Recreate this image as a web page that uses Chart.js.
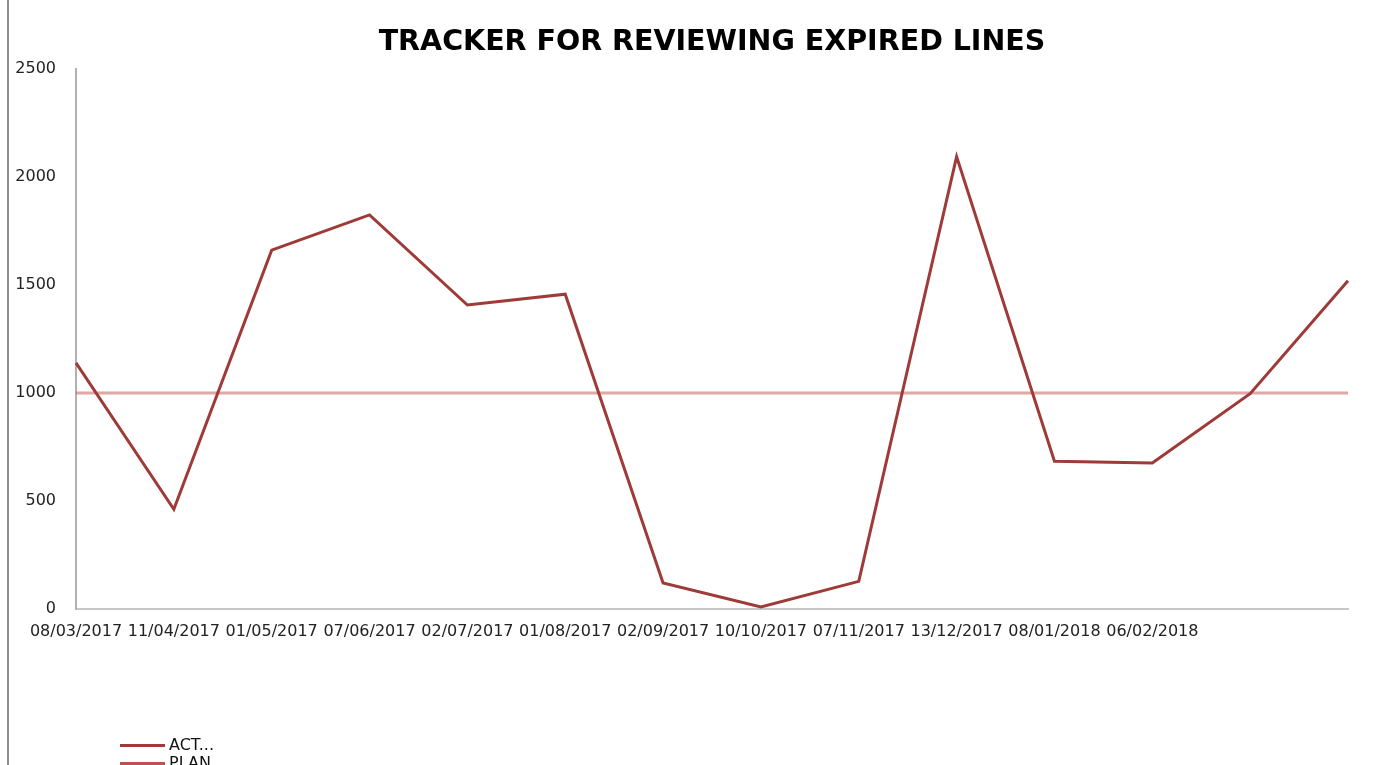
<!DOCTYPE html>
<html>
<head>
<meta charset="utf-8">
<title>Tracker for reviewing expired lines</title>
<script src="https://cdn.jsdelivr.net/npm/chart.js@4"></script>
<style>
  html, body { margin: 0; padding: 0; background: #fff; }
  #wrap { position: relative; width: 1393px; height: 765px; overflow: hidden; }
  #frame { position: absolute; left: 7px; top: 0; width: 2px; height: 765px; background: #8c8c8c; }
  .leg { position: absolute; left: 120px; font: 16px "DejaVu Sans", sans-serif; color: #111; line-height: 18px; }
  .leg span { display: inline-block; width: 45px; height: 3px; vertical-align: middle; margin-right: 4px; }
</style>
</head>
<body>
<div id="wrap">
  <canvas id="trackerChart" width="1393" height="765"></canvas>
  <div id="frame"></div>
  <div class="leg" style="top:736px"><span style="background:#9e3b38"></span>ACT...</div>
  <div class="leg" style="top:754px"><span style="background:#c0504d"></span>PLAN</div>
</div>
<script>
// data
const dates = ['08/03/2017', '11/04/2017', '01/05/2017', '07/06/2017', '02/07/2017', '01/08/2017',
               '02/09/2017', '10/10/2017', '07/11/2017', '13/12/2017', '08/01/2018', '06/02/2018', '', ''];
const actual = [1140, 462, 1662, 1825, 1408, 1458, 121, 10, 128, 2095, 684, 676, 997, 1520];
const plan = [1000, 1000, 1000, 1000, 1000, 1000, 1000, 1000, 1000, 1000, 1000, 1000, 1000, 1000];
const yTicks = [0, 500, 1000, 1500, 2000, 2500];

const ctx = document.getElementById('trackerChart').getContext('2d');
const tickFont = { family: '"DejaVu Sans", sans-serif', size: 16 };

new Chart(ctx, {
    type: 'line',
    data: {
        labels: dates,
        datasets: [
            {
                label: 'ACTUAL',
                data: actual,
                borderColor: '#9e3b38',
                borderWidth: 3,
                pointRadius: 0,
                tension: 0,
                order: 1
            },
            {
                label: 'PLAN',
                data: plan,
                borderColor: 'rgba(192,80,77,0.5)',
                borderWidth: 3,
                pointRadius: 0,
                tension: 0,
                order: 2
            }
        ]
    },
    options: {
        responsive: false,
        animation: false,
        layout: {
            padding: { top: 25, right: 45, bottom: 0, left: 0 }
        },
        plugins: {
            legend: { display: false },
            tooltip: { enabled: false },
            title: {
                display: true,
                fullSize: false, // centre over the plot area like the original
                text: 'TRACKER FOR REVIEWING EXPIRED LINES',
                color: '#000',
                font: { family: '"DejaVu Sans", sans-serif', size: 28.5, weight: 'bold' },
                padding: { top: 0, bottom: 10 }
            }
        },
        scales: {
            x: {
                offset: false,
                grid: { display: false, drawTicks: false },
                border: { display: true, color: '#c8c8c8', width: 2 },
                ticks: {
                    autoSkip: false,
                    maxRotation: 0,
                    minRotation: 0,
                    padding: 13,
                    color: '#222',
                    font: tickFont
                },
                afterFit: scale => { scale.height = 156; }
            },
            y: {
                min: 0,
                max: 2500,
                grid: { display: false, drawTicks: false },
                border: { display: true, color: '#b0b0b0', width: 2 },
                afterBuildTicks: scale => { scale.ticks = yTicks.map(v => ({ value: v })); },
                ticks: {
                    padding: 20,
                    color: '#222',
                    font: tickFont,
                    callback: v => String(v)
                },
                afterFit: scale => { scale.width = 76; }
            }
        }
    }
});
</script>
</body>
</html>
